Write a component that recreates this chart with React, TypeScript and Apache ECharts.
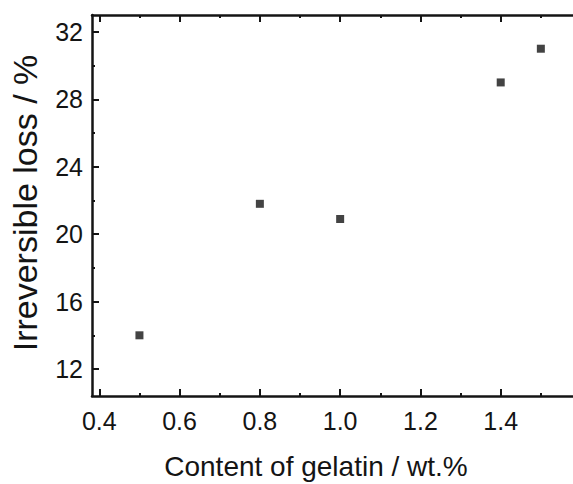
import React, { useEffect, useRef } from "react";
import * as echarts from "echarts";

const gelatinContent = [0.5, 0.8, 1.0, 1.4, 1.5];
const irreversibleLoss = [14.0, 21.8, 20.9, 29.0, 31.0];
const xMajorTicks = [0.4, 0.6, 0.8, 1.0, 1.2, 1.4];
const xMinorTicks = [0.5, 0.7, 0.9, 1.1, 1.3, 1.5];
const yMajorTicks = [12, 16, 20, 24, 28, 32];
const yMinorTicks = [14, 18, 22, 26, 30];
const xTitle = "Content of gelatin / wt.%";
const yTitle = "Irreversible loss / %";

const FONT = "'Liberation Sans', Arial, sans-serif";
const INK = "#141414";
const X_MIN = 0.3818;
const X_MAX = 1.605;
const Y_MIN = 10.4;
const Y_MAX = 33;

export default function App() {
  const ref = useRef<HTMLDivElement>(null);
  useEffect(() => {
    if (!ref.current) return;
    const chart = echarts.init(ref.current, undefined, { renderer: "svg" });
    const line = { show: true, lineStyle: { color: INK, width: 2.5 } };
    const xBase = (position: string, ticks: number[], len: number, showLine: boolean, showLabel: boolean) => ({
      type: "value",
      position,
      min: X_MIN,
      max: X_MAX,
      splitLine: { show: false },
      axisLine: showLine ? line : { show: false },
      axisTick: { show: true, inside: true, length: len, customValues: ticks, lineStyle: { color: INK, width: 2 } },
      axisLabel: showLabel
        ? { show: true, customValues: ticks, margin: 12, fontSize: 25, fontFamily: FONT, color: INK, formatter: (v: number) => v.toFixed(1) }
        : { show: false },
    });
    const yBase = (ticks: number[], len: number, showLine: boolean, showLabel: boolean) => ({
      type: "value",
      position: "left",
      min: Y_MIN,
      max: Y_MAX,
      splitLine: { show: false },
      axisLine: showLine ? line : { show: false },
      axisTick: { show: true, inside: true, length: len, customValues: ticks, lineStyle: { color: INK, width: 2 } },
      axisLabel: showLabel
        ? { show: true, customValues: ticks, margin: 9, fontSize: 25, fontFamily: FONT, color: INK, formatter: (v: number) => String(v) }
        : { show: false },
    });
    chart.setOption({
      animation: false,
      backgroundColor: "#ffffff",
      grid: { left: 92, top: 15, width: 491, height: 381, containLabel: false, outerBoundsMode: "none" },
      xAxis: [
        xBase("bottom", xMajorTicks, 7, true, true),
        xBase("bottom", xMinorTicks, 3, false, false),
        xBase("top", xMajorTicks, 7, true, false),
        xBase("top", xMinorTicks, 3, false, false),
      ],
      yAxis: [yBase(yMajorTicks, 7, true, true), yBase(yMinorTicks, 3, false, false)],
      series: [
        {
          type: "scatter",
          xAxisIndex: 0,
          yAxisIndex: 0,
          symbol: "rect",
          symbolSize: 8,
          itemStyle: { color: INK },
          data: gelatinContent.map((x, i) => [x, irreversibleLoss[i]]),
        },
      ],
      graphic: [
        {
          type: "text",
          x: 316,
          y: 466,
          style: { text: xTitle, fontSize: 28, fontFamily: FONT, fill: INK, align: "center", verticalAlign: "middle" },
        },
        {
          type: "text",
          x: 25,
          y: 203,
          rotation: Math.PI / 2,
          style: { text: yTitle, fontSize: 34, fontFamily: FONT, fill: INK, align: "center", verticalAlign: "middle" },
        },
      ],
    });
    return () => chart.dispose();
  }, []);
  return <div ref={ref} style={{ position: "absolute", left: 0, top: 0, width: 573, height: 484 }} />;
}
